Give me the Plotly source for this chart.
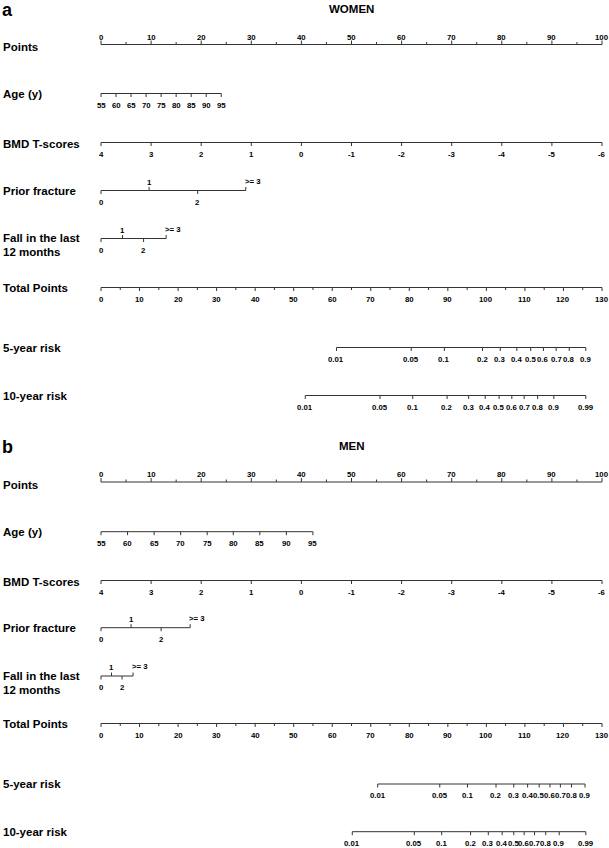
import plotly.graph_objects as go

W, H = 609, 848
FONT = "Liberation Sans, Arial, sans-serif"
LINE_COLOR = "#333333"

# ---------------- data ----------------
POINTS_TICKS = list(range(0, 101, 10))
POINTS_MINOR = list(range(5, 100, 10))
TOTAL_TICKS = list(range(0, 131, 10))
TOTAL_MINOR = list(range(5, 130, 10))
TOTAL_MAX = 130
POINTS_MAX = 100

AGE_LABELS = ["55", "60", "65", "70", "75", "80", "85", "90", "95"]
WOMEN_AGE_POINTS = [0, 3.0, 6.0, 9.0, 12.0, 15.0, 18.0, 21.0, 24.0]
MEN_AGE_POINTS = [0, 5.3, 10.6, 15.9, 21.2, 26.4, 31.7, 37.0, 42.3]

BMD_LABELS = ["4", "3", "2", "1", "0", "-1", "-2", "-3", "-4", "-5", "-6"]
BMD_POINTS = [0, 10, 20, 30, 40, 50, 60, 70, 80, 90, 100]

CAT_LABELS = ["0", "1", "2", ">= 3"]
CAT_SIDES = ["below", "above", "below", "above"]
WOMEN_FRACTURE_POINTS = [0, 9.6, 19.3, 28.9]
WOMEN_FALL_POINTS = [0, 4.3, 8.5, 13.0]
MEN_FRACTURE_POINTS = [0, 6.0, 12.0, 17.8]
MEN_FALL_POINTS = [0, 2.1, 4.2, 6.4]

RISK5_LABELS = ["0.01", "0.05", "0.1", "0.2", "0.3", "0.4", "0.5", "0.6", "0.7", "0.8", "0.9"]
RISK10_LABELS = ["0.01", "0.05", "0.1", "0.2", "0.3", "0.4", "0.5", "0.6", "0.7", "0.8", "0.9", "0.99"]
WOMEN_RISK5_TOTAL = [61.1, 80.5, 89.1, 99.0, 103.6, 107.9, 111.5, 114.8, 118.1, 121.5, 125.8]
WOMEN_RISK10_TOTAL = [53.0, 72.4, 80.9, 89.8, 95.4, 99.7, 103.3, 106.6, 109.8, 113.3, 117.5, 125.8]
MEN_RISK5_TOTAL = [71.8, 87.9, 95.1, 102.5, 107.1, 110.7, 113.7, 116.5, 119.2, 122.1, 125.6]
MEN_RISK10_TOTAL = [65.2, 81.3, 88.4, 95.9, 100.5, 104.1, 107.1, 109.8, 112.5, 115.4, 118.9, 125.8]

# ---------------- drawing helpers ----------------
lx, ly = [], []
annotations = []
TICK_FONT = 7.8


def tp(v):
    """total points -> points axis units"""
    return v * POINTS_MAX / TOTAL_MAX


def text(x, y, s, size=TICK_FONT, xanchor="center", xref="x"):
    annotations.append(dict(x=x, y=y, text=s, xref=xref, yref="y", showarrow=False,
                            xanchor=xanchor, yanchor="middle", borderpad=0,
                            font=dict(family=FONT, size=size, color="black", weight="bold")))


def seg(x0, y0, x1, y1):
    lx.extend([x0, x1, None])
    ly.extend([y0, y1, None])


def axis(y, xs, labels, sides=None, minor=None, up=False, tick=3.5, minor_tick=2.5):
    seg(min(xs), y, max(xs), y)
    for i, (x, lab) in enumerate(zip(xs, labels)):
        side = sides[i] if sides else ("above" if up else "below")
        if side == "above":
            seg(x, y, x, y - tick)
            if lab.startswith(">="):
                text(x - 0.45, y - 9.5, lab, xanchor="left")
            else:
                text(x, y - 8.5 if not up else y - 7.5, lab)
        else:
            seg(x, y, x, y + tick)
            text(x, y + 11.5, lab)
    if minor:
        for x in minor:
            if up:
                seg(x, y, x, y - minor_tick)
            else:
                seg(x, y, x, y + minor_tick)


def row_label(y, s):
    text(2 / W, y, s, size=11.5, xanchor="left", xref="paper")


def panel(tag, title, ys, age_pts, frac_pts, fall_pts, r5, r10):
    (yt, yp, ya, yb, yf, yfa, ytot, y5, y10) = ys
    text(1 / W, yt + 0.5, tag, size=18, xanchor="left", xref="paper")
    text(50, yt, title, size=11.5)
    row_label(yp + 2.5, "Points")
    axis(yp, POINTS_TICKS, [str(v) for v in POINTS_TICKS], up=True, minor=POINTS_MINOR, tick=4)
    row_label(ya, "Age (y)")
    axis(ya, age_pts, AGE_LABELS)
    row_label(yb + 1, "BMD T-scores")
    axis(yb, BMD_POINTS, BMD_LABELS)
    row_label(yf, "Prior fracture")
    axis(yf, frac_pts, CAT_LABELS, sides=CAT_SIDES)
    row_label(yfa - 0.5, "Fall in the last")
    row_label(yfa + 13.5, "12 months")
    axis(yfa, fall_pts, CAT_LABELS, sides=CAT_SIDES)
    row_label(ytot, "Total Points")
    axis(ytot, [tp(v) for v in TOTAL_TICKS], [str(v) for v in TOTAL_TICKS],
         minor=[tp(v) for v in TOTAL_MINOR])
    row_label(y5, "5-year risk")
    axis(y5, [tp(v) for v in r5], RISK5_LABELS)
    row_label(y10, "10-year risk")
    axis(y10, [tp(v) for v in r10], RISK10_LABELS)


panel("a", "WOMEN", (9, 44.5, 93.5, 142.5, 190.5, 238.5, 287.5, 347.5, 395.5),
      WOMEN_AGE_POINTS, WOMEN_FRACTURE_POINTS, WOMEN_FALL_POINTS,
      WOMEN_RISK5_TOTAL, WOMEN_RISK10_TOTAL)
panel("b", "MEN", (446, 482, 531.7, 580.5, 627.7, 676, 723.5, 784, 831.7),
      MEN_AGE_POINTS, MEN_FRACTURE_POINTS, MEN_FALL_POINTS,
      MEN_RISK5_TOTAL, MEN_RISK10_TOTAL)

fig = go.Figure()
fig.add_trace(go.Scatter(x=lx, y=ly, mode="lines", line=dict(color=LINE_COLOR, width=1),
                         hoverinfo="skip", showlegend=False))

# x axis in "Points" units: 0 at px 101, 100 at px 602
px0, px100 = 101, 602
span = 100 * W / (px100 - px0)
x_min = -px0 * span / W
fig.update_layout(
    width=W, height=H,
    margin=dict(l=0, r=0, t=0, b=0),
    paper_bgcolor="white", plot_bgcolor="white",
    xaxis=dict(range=[x_min, x_min + span], visible=False, fixedrange=True),
    yaxis=dict(range=[H, 0], visible=False, fixedrange=True),
    annotations=annotations,
    showlegend=False,
)
fig.write_html("out.html", config={"displayModeBar": False},
               post_script="document.body.style.margin='0px';document.body.style.overflow='hidden';")
